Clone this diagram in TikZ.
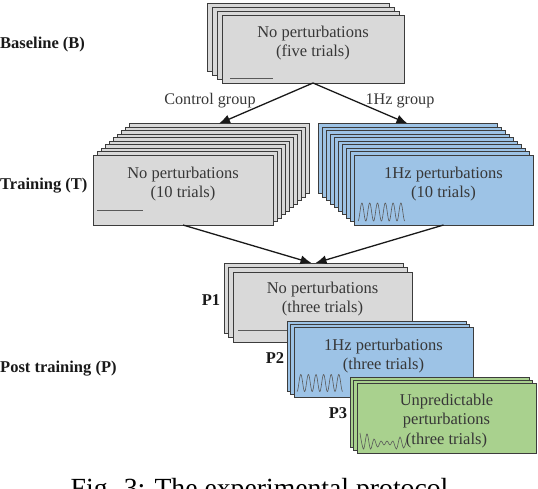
\documentclass[tikz,border=0pt]{standalone}
\usepackage{fontspec}
\setmainfont{Liberation Serif}
\usetikzlibrary{arrows.meta}
\definecolor{cardgray}{RGB}{217,217,217}
\definecolor{cardblue}{RGB}{157,195,230}
\definecolor{cardgreen}{RGB}{169,209,142}
\definecolor{edgecol}{RGB}{60,60,60}
\definecolor{txtcol}{RGB}{55,55,55}
\tikzset{
  card/.style={draw=edgecol, line width=0.9pt, anchor=north west, minimum width=180pt, minimum height=70pt, inner sep=0pt, outer sep=0pt},
  cardtext/.style={text=txtcol, align=center, font=\fontsize{16.5}{19.5}\selectfont, inner sep=0pt},
  sidelbl/.style={font=\fontsize{16.5}{19.5}\selectfont\bfseries, text=black!90, inner sep=0pt},
  grplbl/.style={font=\fontsize{16.2}{19}\selectfont, text=txtcol, inner sep=0pt},
  flow/.style={-{Latex[length=11pt,width=9pt]}, line width=1.3pt, black!90},
  signal/.style={draw=edgecol!85, line width=0.6pt},
}
\begin{document}
\begin{tikzpicture}[x=1pt,y=-1pt]
\useasboundingbox (0,0) rectangle (538,488);

% Baseline stack
\foreach \k in {3,2,1}
  \node[card, fill=cardgray, minimum width=182pt, minimum height=68pt] (B\k) at ({222-5*\k},{15-4*\k}) {};
\node[card, fill=cardgray, minimum width=182pt, minimum height=68pt] (B0) at (222,15) {};
\node[cardtext] (Bt) at ([yshift=6pt]B0.center) {No perturbations\\(five trials)};
\draw[signal] (230,78) -- (273,78);

% Training, control group
\foreach \k in {9,...,1}
  \node[card, fill=cardgray] (T\k) at ({93+4*\k},{155-3.5*\k}) {};
\node[card, fill=cardgray] (T0) at (93,155) {};
\node[cardtext] (Tt) at ([yshift=6pt]T0.center) {No perturbations\\(10 trials)};
\draw[signal] (97,210) -- (143,210);

% Training, 1Hz group
\foreach \k in {9,...,1}
  \node[card, fill=cardblue, minimum width=179pt] (U\k) at ({354-4*\k},{155-3.5*\k}) {};
\node[card, fill=cardblue, minimum width=179pt] (U0) at (354,155) {};
\node[cardtext] (Ut) at ([yshift=6pt]U0.center) {1Hz perturbations\\(10 trials)};
\draw[signal] plot[domain=0:6, samples=180, smooth] ({358+\x*7.8},{212+9*cos(\x*360)});

% P1
\foreach \k in {2,1}
  \node[card, fill=cardgray, minimum width=179pt] (Pa\k) at ({233-4.5*\k},{272-4.5*\k}) {};
\node[card, fill=cardgray, minimum width=179pt] (Pa0) at (233,272) {};
\node[cardtext] (Pat) at ([yshift=8pt]Pa0.center) {No perturbations\\(three trials)};
\draw[signal] (238,330) -- (290,330);

% P2
\foreach \k in {2,1}
  \node[card, fill=cardblue, minimum width=179pt] (Pb\k) at ({294-3.5*\k},{327-3*\k}) {};
\node[card, fill=cardblue, minimum width=179pt] (Pb0) at (294,327) {};
\node[cardtext] (Pbt) at ([yshift=6pt]Pb0.center) {1Hz perturbations\\(three trials)};
\draw[signal] plot[domain=0:6, samples=180, smooth] ({297+\x*7.6},{383+8.5*cos(\x*360)});

% P3
\foreach \k in {2,1}
  \node[card, fill=cardgreen, minimum width=179pt] (Pc\k) at ({357-3.5*\k},{383-3*\k}) {};
\node[card, fill=cardgreen, minimum width=179pt] (Pc0) at (357,383) {};
\node[cardtext] (Pct) at ([yshift=-3pt]Pc0.center) {Unpredictable\\perturbations\\(three trials)};
\draw[signal] plot[smooth, tension=0.6] coordinates {(360,433) (363.5,449) (367,434) (370.5,449) (374,439) (377.5,447) (381,441) (384,445) (387,441) (390,445) (393,441) (396.5,449) (400,437) (403.5,448) (407,439)};

% Arrows
\draw[flow] (B0.south) -- (T9.north);
\draw[flow] (B0.south) -- (U9.north);
\draw[flow] (T0.south) -- ([xshift=-2pt]Pa2.north);
\draw[flow] (U0.south) -- ([xshift=2pt]Pa2.north);

% Group labels
\node[grplbl] (cg) at (210,101) {Control group};
\node[grplbl] (hg) at (400,101) {1Hz group};

% Side labels
\node[sidelbl, anchor=west] (lb) at (0,45) {Baseline (B)};
\node[sidelbl, anchor=west] (lt) at (0,186) {Training (T)};
\node[sidelbl, anchor=west] (lp) at (0,369) {Post training (P)};
\node[sidelbl] (l1) at (211,300) {P1};
\node[sidelbl] (l2) at (275,358) {P2};
\node[sidelbl] (l3) at (338,413) {P3};

% Caption (cut by the lower edge, as in the reference)
\node[font=\fontsize{27.7}{30}\selectfont, anchor=base, text=black, inner sep=0pt] (cap) at (263,497) {Fig. 3: The experimental protocol.};
\end{tikzpicture}
\end{document}
